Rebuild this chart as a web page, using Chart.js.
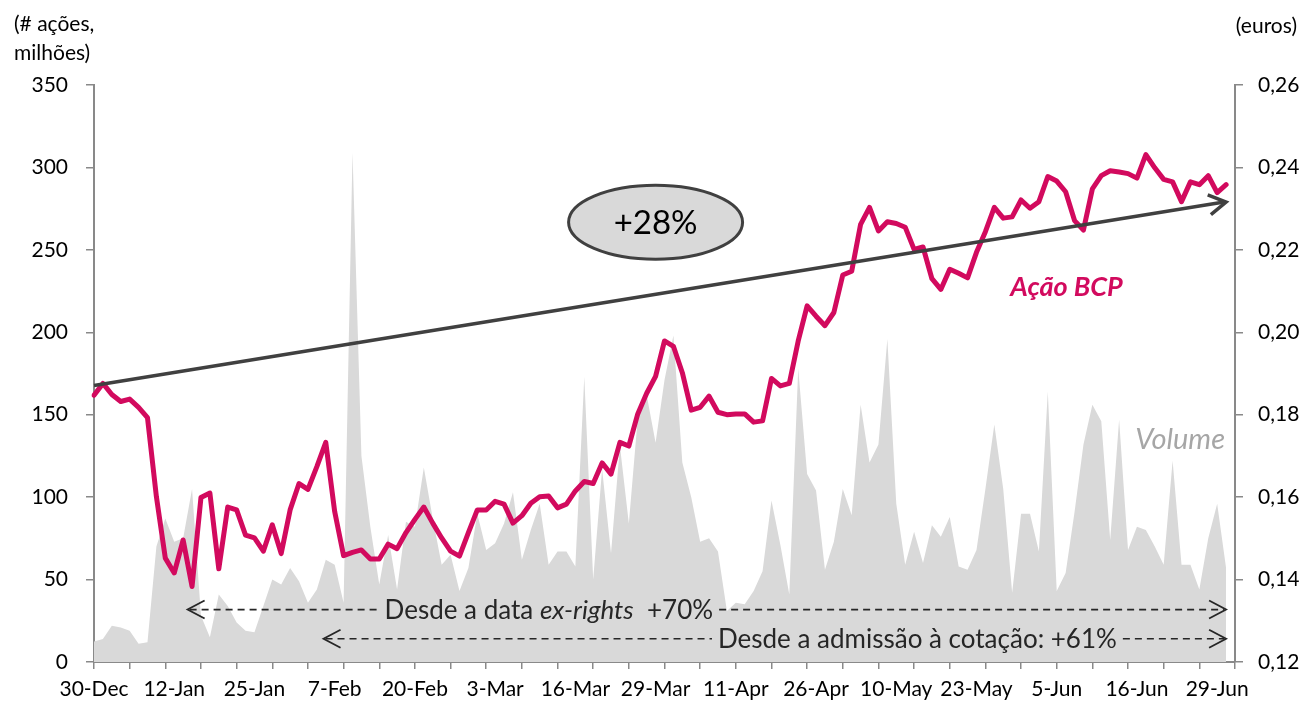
<!DOCTYPE html>
<html lang="pt">
<head>
<meta charset="UTF-8">
<title>Ação BCP</title>
<style>
    html, body { margin: 0; padding: 0; background: #fff; }
    #wrap { width: 1309px; height: 704px; }
</style>
</head>
<body>
<div id="wrap"><canvas id="chart" width="1309" height="704"></canvas></div>
<script src="https://cdn.jsdelivr.net/npm/chart.js@4.4.0/dist/chart.umd.min.js"></script>
<script>
'use strict';

// dias de negociação (30-Dec a 30-Jun)
var dates = [
    '30-Dec',
    '2-Jan', '3-Jan', '4-Jan', '5-Jan', '6-Jan', '9-Jan', '10-Jan', '11-Jan', '12-Jan', '13-Jan', '16-Jan', '17-Jan',
    '18-Jan', '19-Jan', '20-Jan', '23-Jan', '24-Jan', '25-Jan', '26-Jan', '27-Jan', '30-Jan', '31-Jan',
    '1-Feb', '2-Feb', '3-Feb', '6-Feb', '7-Feb', '8-Feb', '9-Feb', '10-Feb', '13-Feb', '14-Feb', '15-Feb', '16-Feb',
    '17-Feb', '20-Feb', '21-Feb', '22-Feb', '23-Feb', '24-Feb', '27-Feb', '28-Feb',
    '1-Mar', '2-Mar', '3-Mar', '6-Mar', '7-Mar', '8-Mar', '9-Mar', '10-Mar', '13-Mar', '14-Mar', '15-Mar', '16-Mar',
    '17-Mar', '20-Mar', '21-Mar', '22-Mar', '23-Mar', '24-Mar', '27-Mar', '28-Mar', '29-Mar', '30-Mar', '31-Mar',
    '3-Apr', '4-Apr', '5-Apr', '6-Apr', '7-Apr', '10-Apr', '11-Apr', '12-Apr', '13-Apr', '18-Apr', '19-Apr', '20-Apr',
    '21-Apr', '24-Apr', '25-Apr', '26-Apr', '27-Apr', '28-Apr',
    '2-May', '3-May', '4-May', '5-May', '8-May', '9-May', '10-May', '11-May', '12-May', '15-May', '16-May', '17-May',
    '18-May', '19-May', '22-May', '23-May', '24-May', '25-May', '26-May', '29-May', '30-May', '31-May',
    '1-Jun', '2-Jun', '5-Jun', '6-Jun', '7-Jun', '8-Jun', '9-Jun', '12-Jun', '13-Jun', '14-Jun', '15-Jun', '16-Jun',
    '19-Jun', '20-Jun', '21-Jun', '22-Jun', '23-Jun', '26-Jun', '27-Jun', '28-Jun', '29-Jun', '30-Jun'
];

// volume (# ações, milhões)
var volume = [
    12.5, 14, 22, 21, 19, 11, 12, 70, 87, 73, 75, 105, 28, 15, 41, 34, 24, 19, 18, 34, 50, 47,
    57, 49, 36, 44, 62, 59, 36, 309, 125, 82, 47, 77, 44, 85, 82, 118, 87, 59, 65, 43, 57,
    90, 68, 72, 84, 103, 62, 80, 96, 59, 67, 67, 58, 173, 50, 117, 66, 131, 84, 148, 162, 133, 171, 198,
    121, 100, 73, 75, 67, 31, 36, 35, 43, 55, 98, 71, 41, 178, 114, 104, 56, 73,
    105, 89, 156, 121, 132, 196, 96, 59, 79, 60, 83, 76, 88, 58, 56, 68, 105, 144, 105, 42, 90, 90,
    67, 164, 43, 54, 91, 132, 156, 146, 74, 147, 68, 82, 80, 70, 59, 122, 59, 59, 44, 75, 96, 57
];

// cotação (euros)
var price = [
    0.1847, 0.1876, 0.1849, 0.1832, 0.1838, 0.1818, 0.1793, 0.1601, 0.1452, 0.1416, 0.1496, 0.1383, 0.1599,
    0.1610, 0.1426, 0.1576, 0.1569, 0.1508, 0.1501, 0.1469, 0.1533, 0.1463,
    0.1569, 0.1633, 0.1619, 0.1674, 0.1733, 0.1565, 0.1458, 0.1466, 0.1472, 0.1450, 0.1450, 0.1486, 0.1475,
    0.1514, 0.1546, 0.1576, 0.1537, 0.1501, 0.1469, 0.1457, 0.1514,
    0.1569, 0.1569, 0.1590, 0.1583, 0.1537, 0.1555, 0.1585, 0.1601, 0.1603, 0.1574, 0.1583, 0.1615, 0.1638,
    0.1633, 0.1683, 0.1656, 0.1733, 0.1724, 0.1802, 0.1852, 0.1893, 0.1979, 0.1966,
    0.1902, 0.1811, 0.1818, 0.1845, 0.1806, 0.1800, 0.1802, 0.1802, 0.1782, 0.1785, 0.1888, 0.1870, 0.1876,
    0.1979, 0.2064, 0.2039, 0.2016, 0.2048,
    0.2139, 0.2148, 0.2262, 0.2303, 0.2246, 0.2268, 0.2264, 0.2255, 0.2201, 0.2207, 0.2130, 0.2104, 0.2153,
    0.2143, 0.2132, 0.2194, 0.2244, 0.2303, 0.2277, 0.2280, 0.2321, 0.2301,
    0.2317, 0.2378, 0.2367, 0.2341, 0.2271, 0.2248, 0.2348, 0.2380, 0.2392, 0.2389, 0.2385, 0.2374, 0.2431,
    0.2399, 0.2371, 0.2365, 0.2317, 0.2365, 0.2358, 0.2380, 0.2339, 0.2358
];

var labelEvery = 9;     // uma data a cada 9 sessões
var tickEvery = 4;      // marca no eixo a cada 4 sessões
var volumeRange = [0, 350, 50];
var priceRange = [0.12, 0.26, 0.02];

// seta da tendência (+28%), em euros
var trendFrom = 0.1871, trendTo = 0.2316;

var PINK = '#d20a5e';
var AXIS = '#898989';
var FONT = 'Lato, "Open Sans", sans-serif';

// eixo x: mais uma posição vazia no fim (o gráfico original deixa esse espaço)
var xLabels = dates.concat(['']);

function arrowHead(c, tx, ty, ang, len, half) {
    var bx = tx - Math.cos(ang) * len, by = ty - Math.sin(ang) * len;
    var nx = -Math.sin(ang) * half, ny = Math.cos(ang) * half;
    c.beginPath();
    c.moveTo(bx + nx, by + ny);
    c.lineTo(tx, ty);
    c.lineTo(bx - nx, by - ny);
    c.stroke();
}

// linha tracejada com setas nas pontas e texto no meio
function dashedArrow(c, x1, x2, y, textLeft, parts) {
    var w = 0;
    parts.forEach(function (p) { c.font = p.font; p.w = c.measureText(p.t).width; w += p.w; });
    c.save();
    c.strokeStyle = '#262626';
    c.lineWidth = 1.6;
    c.setLineDash([7, 5]);
    c.beginPath();
    c.moveTo(x1 + 2, y); c.lineTo(textLeft - 6, y);
    c.moveTo(textLeft + w + 6, y); c.lineTo(x2 - 2, y);
    c.stroke();
    c.setLineDash([]);
    c.lineWidth = 1.8;
    arrowHead(c, x1, y, Math.PI, 17, 9);
    arrowHead(c, x2, y, 0, 17, 9);
    c.fillStyle = '#262626';
    c.textBaseline = 'middle';
    c.textAlign = 'left';
    var x = textLeft;
    parts.forEach(function (p) { c.font = p.font; c.fillText(p.t, x, y + 1); x += p.w; });
    c.restore();
}

var annotations = {
    id: 'annotations',
    afterDatasetsDraw: function (chart) {
        var c = chart.ctx;
        var sx = chart.scales.x, sv = chart.scales.y, sp = chart.scales.y2;
        var last = dates.length - 1;

        // seta da tendência
        var ax = sx.getPixelForValue(0), ay = sp.getPixelForValue(trendFrom);
        var bx = sx.getPixelForValue(last), by = sp.getPixelForValue(trendTo);
        c.save();
        c.strokeStyle = '#404040';
        c.lineWidth = 3.5;
        c.lineCap = 'butt';
        c.beginPath();
        c.moveTo(ax, ay);
        c.lineTo(bx - 2, by);
        c.stroke();
        c.lineJoin = 'miter';
        arrowHead(c, bx, by, Math.atan2(by - ay, bx - ax), 17, 10);

        // elipse +28%
        var ex = sx.getPixelForValue(63), ey = sp.getPixelForValue(0.2267);
        c.beginPath();
        c.ellipse(ex, ey, 87, 37, 0, 0, Math.PI * 2);
        c.fillStyle = '#d9d9d9';
        c.fill();
        c.lineWidth = 3;
        c.stroke();
        c.fillStyle = '#000';
        c.font = '33px ' + FONT;
        c.textAlign = 'center';
        c.textBaseline = 'middle';
        c.fillText('+28%', ex, ey + 1);

        // legendas das séries
        c.textAlign = 'left';
        c.textBaseline = 'alphabetic';
        c.fillStyle = PINK;
        c.font = 'italic bold 27px ' + FONT;
        c.fillText('Ação BCP', sx.getPixelForValue(102.8), sp.getPixelForValue(0.2088));
        c.fillStyle = '#a6a6a6';
        c.font = 'italic 29px ' + FONT;
        c.fillText('Volume', sx.getPixelForValue(116.8), sv.getPixelForValue(129));
        c.restore();

        var reg = '26px ' + FONT, ita = 'italic 26px ' + FONT;
        dashedArrow(c, sx.getPixelForValue(10.5), sx.getPixelForValue(last), sv.getPixelForValue(31.8),
            sx.getPixelForValue(32.6), [{t: 'Desde a data ', font: reg}, {t: 'ex-rights', font: ita}, {t: '  +70%', font: reg}]);
        dashedArrow(c, sx.getPixelForValue(25.75), sx.getPixelForValue(last), sv.getPixelForValue(14.1),
            sx.getPixelForValue(70), [{t: 'Desde a admissão à cotação: +61%', font: reg}]);

        // títulos dos eixos
        c.save();
        c.fillStyle = '#000';
        c.font = '21px ' + FONT;
        c.textBaseline = 'alphabetic';
        c.textAlign = 'left';
        c.fillText('(# ações,', 14, 31);
        c.fillText('milhões)', 14, 60);
        c.textAlign = 'right';
        c.fillText('(euros)', 1297, 33);
        c.restore();
    }
};

var ctx = document.getElementById('chart');
var chart = new Chart(ctx, {
    type: 'line',
    data: {
        labels: xLabels,
        datasets: [{
            label: 'Ação BCP',
            data: price,
            yAxisID: 'y2',
            borderColor: PINK,
            borderWidth: 5,
            borderJoinStyle: 'round',
            borderCapStyle: 'round',
            pointRadius: 0,
            tension: 0,
            fill: false,
            order: 1
        }, {
            label: 'Volume',
            data: volume,
            yAxisID: 'y',
            borderWidth: 0,
            borderColor: '#d9d9d9',
            backgroundColor: '#d9d9d9',
            pointRadius: 0,
            tension: 0,
            fill: 'origin',
            order: 2
        }]
    },
    options: {
        responsive: false,
        animation: false,
        layout: {padding: {top: 85, left: 0, right: 0, bottom: 0}},
        plugins: {legend: {display: false}, tooltip: {enabled: false}},
        scales: {
            x: {
                offset: false,
                border: {display: true, color: AXIS, width: 2},
                grid: {
                    drawOnChartArea: false,
                    tickLength: 7,
                    lineWidth: 1.5,
                    tickColor: function (c) { return c.index % tickEvery === 0 ? AXIS : 'rgba(0,0,0,0)'; }
                },
                ticks: {
                    autoSkip: false,
                    maxRotation: 0,
                    padding: 8,
                    color: '#000',
                    font: {family: FONT, size: 21},
                    callback: function (v, i) { return i % labelEvery === 0 ? xLabels[i] : ''; }
                },
                afterFit: function (s) { s.height = 42; }
            },
            y: {
                position: 'left',
                min: volumeRange[0], max: volumeRange[1],
                border: {display: true, color: AXIS, width: 2},
                grid: {drawOnChartArea: false, tickLength: 8, lineWidth: 1.5, tickColor: AXIS},
                ticks: {stepSize: volumeRange[2], padding: 18, color: '#000', font: {family: FONT, size: 21}},
                afterFit: function (s) { s.width = 94; }
            },
            y2: {
                position: 'right',
                min: priceRange[0], max: priceRange[1],
                border: {display: true, color: AXIS, width: 2},
                grid: {drawOnChartArea: false, tickLength: 8, lineWidth: 1.5, tickColor: AXIS},
                ticks: {
                    stepSize: priceRange[2], padding: 15, color: '#000', font: {family: FONT, size: 21},
                    callback: function (v) { return v.toFixed(2).replace('.', ','); }
                },
                afterFit: function (s) { s.width = 74; }
            }
        }
    },
    plugins: [annotations]
});
</script>
</body>
</html>
